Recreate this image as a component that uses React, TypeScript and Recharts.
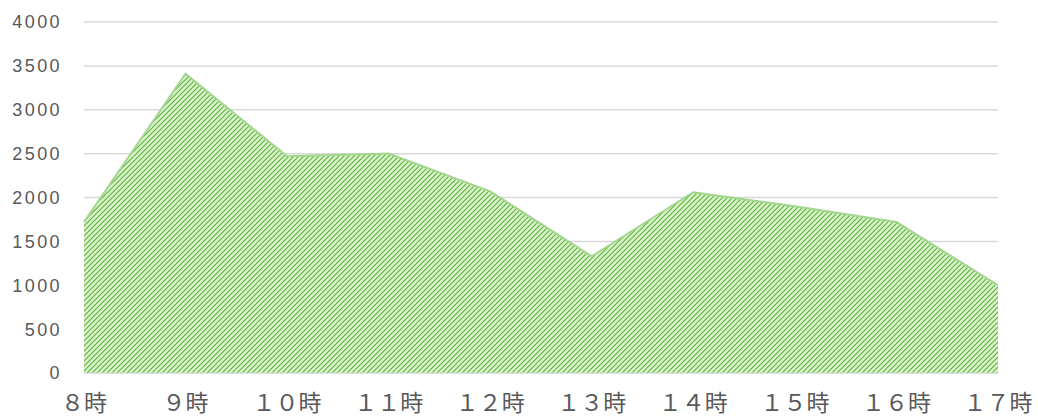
import { AreaChart, Area, XAxis, YAxis, CartesianGrid } from 'recharts';

const hours = ['８時', '９時', '１０時', '１１時', '１２時', '１３時', '１４時', '１５時', '１６時', '１７時'];
const counts = [1720, 3410, 2470, 2500, 2070, 1330, 2060, 1900, 1720, 1000];
const yTicks = [0, 500, 1000, 1500, 2000, 2500, 3000, 3500, 4000];

const rows = hours.map((h, i) => ({ hour: h, count: counts[i] }));

const cjk = '"Noto Sans CJK JP", "Noto Sans", sans-serif';
const latin = '"Liberation Sans", Arial, sans-serif';

export default function App() {
  return (
    <div style={{ position: 'absolute', left: 0, top: 0, width: 1038, height: 419, background: '#fff' }}>
      <AreaChart width={1038} height={419} data={rows} margin={{ top: 22, right: 40, bottom: 0, left: 0 }}>
        <defs>
          <pattern id="hatch" width="5" height="5" patternUnits="userSpaceOnUse">
            <rect width="5" height="5" fill="#dcf3d0" />
            <path d="M-1,1 L1,-1 M0,5 L5,0 M4,6 L6,4" stroke="#58b432" strokeWidth={1.1} />
          </pattern>
        </defs>
        <CartesianGrid vertical={false} stroke="#d9d9d9" strokeWidth={1.5} />
        <XAxis
          dataKey="hour"
          height={46}
          axisLine={{ stroke: '#d9d9d9' }}
          tickLine={false}
          tickSize={0}
          tickMargin={22}
          interval={0}
          tick={{ fill: '#595959', fontSize: 23, fontFamily: cjk }}
        />
        <YAxis
          width={84}
          domain={[0, 4000]}
          ticks={yTicks}
          axisLine={false}
          tickLine={false}
          tickSize={0}
          tickMargin={22}
          tick={{ fill: '#595959', fontSize: 18, fontFamily: latin, letterSpacing: 2.4 }}
        />
        <Area
          type="linear"
          dataKey="count"
          stroke="#a3d68e"
          strokeWidth={2}
          fill="url(#hatch)"
          fillOpacity={1}
          isAnimationActive={false}
        />
      </AreaChart>
    </div>
  );
}
